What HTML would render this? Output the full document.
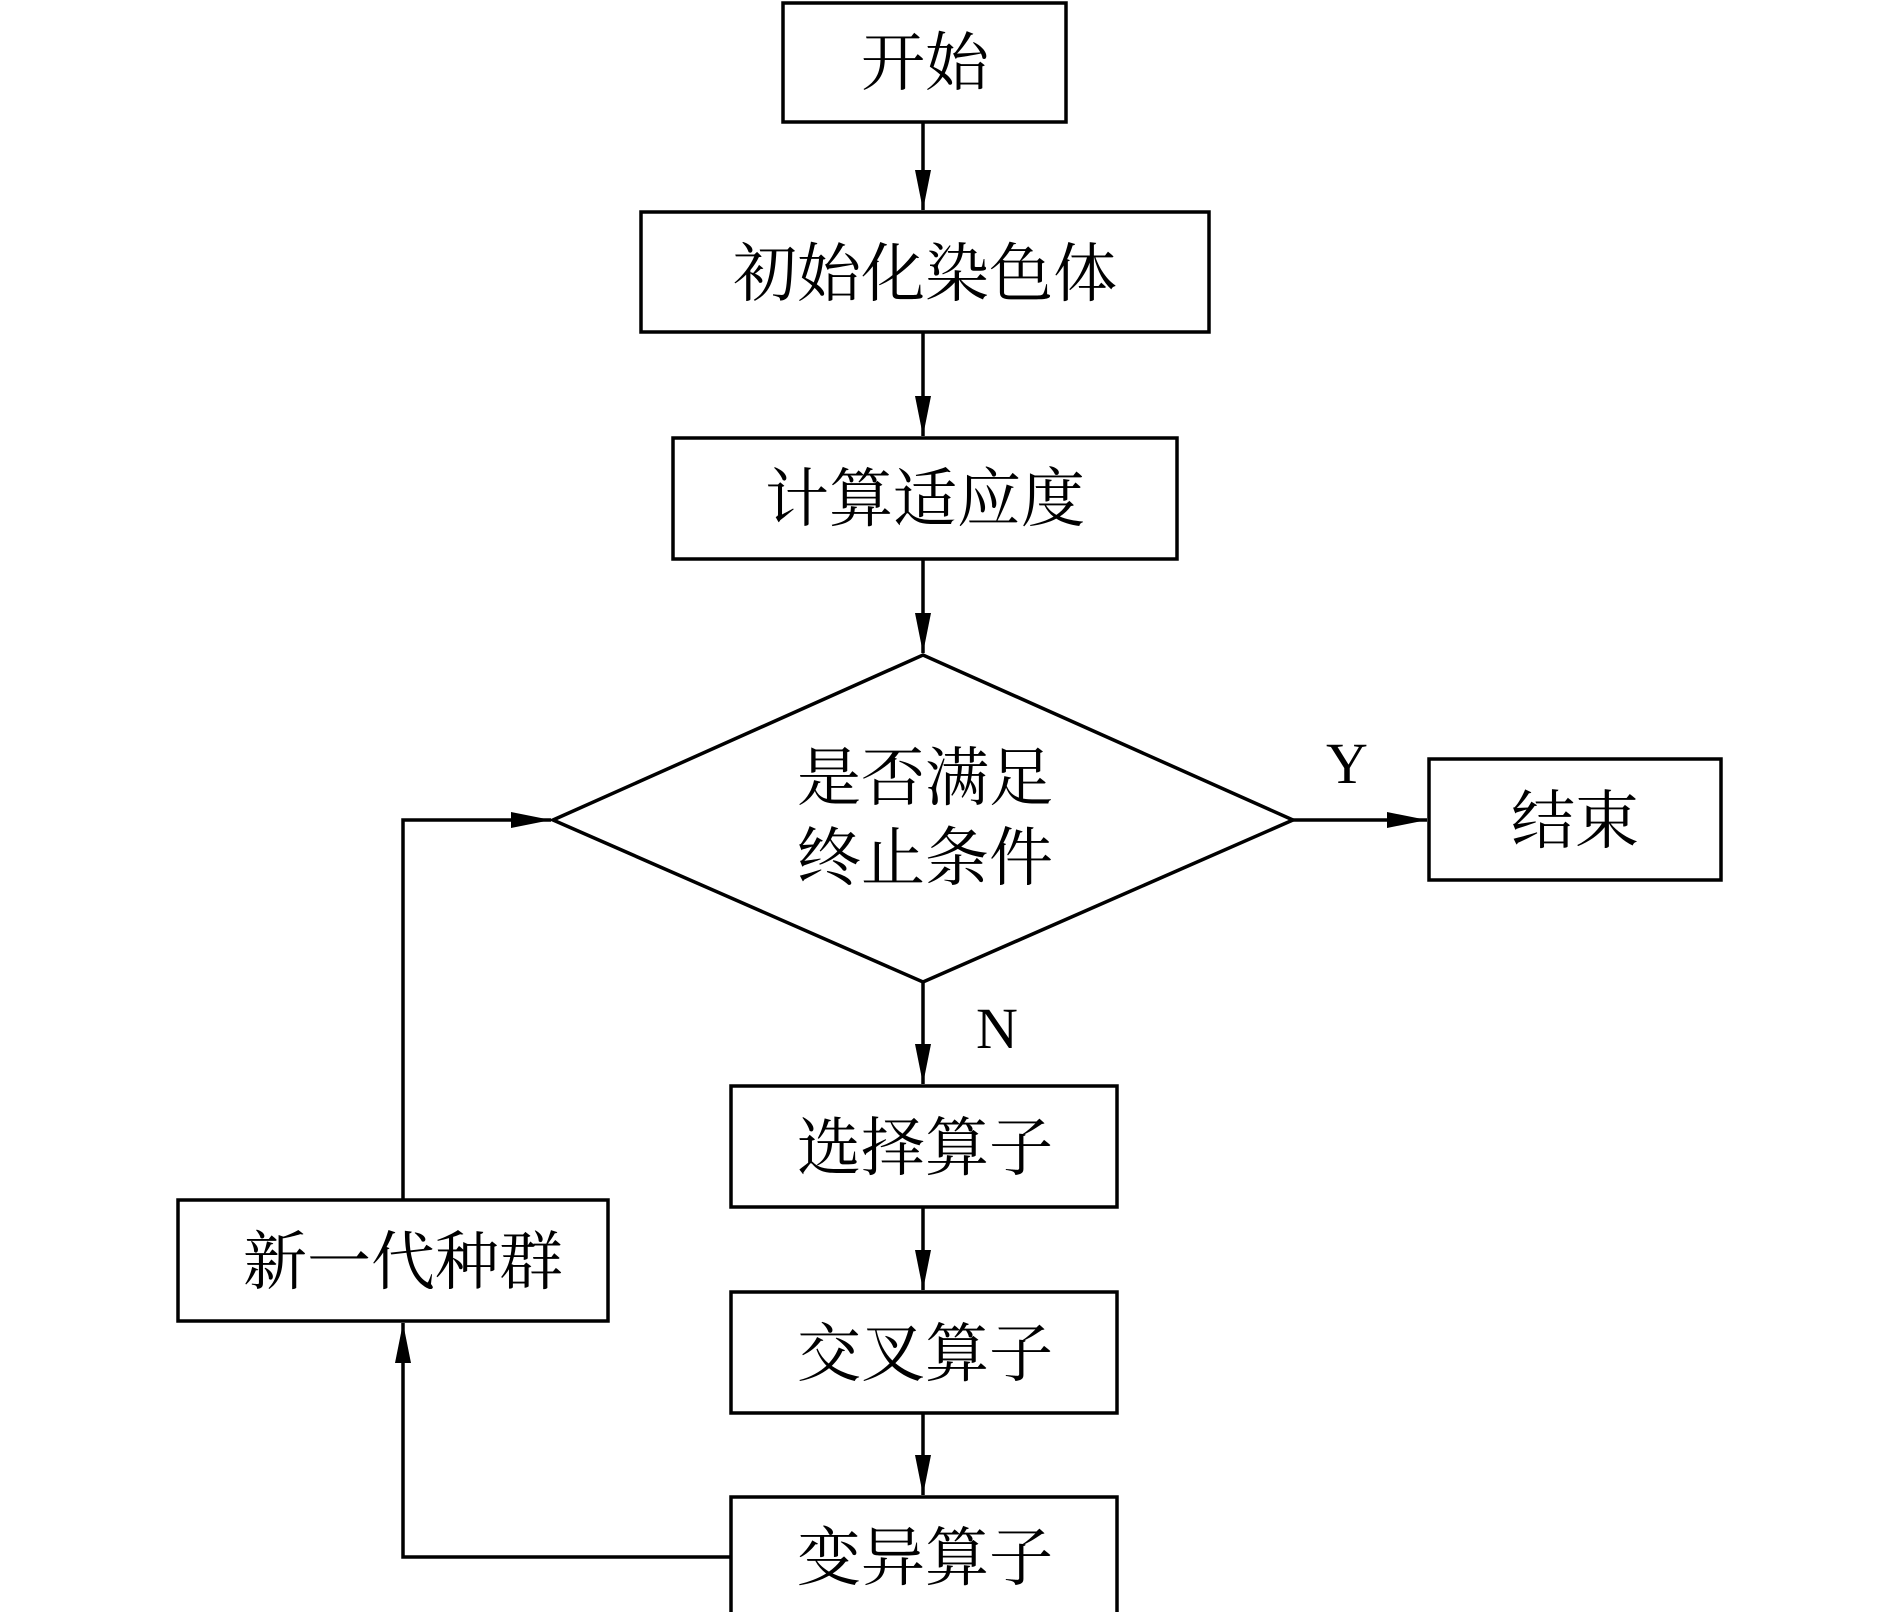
<!DOCTYPE html>
<html><head><meta charset="utf-8"><style>
html,body{margin:0;padding:0;background:#fff;}
svg text{font-family:"Liberation Serif","Noto Serif CJK SC",serif;fill:#000;}
</style></head><body>
<svg width="1889" height="1612" viewBox="0 0 1889 1612" xmlns="http://www.w3.org/2000/svg">
<defs><marker id="a" markerWidth="12" markerHeight="10" refX="12" refY="5" orient="auto" markerUnits="userSpaceOnUse"><path d="M0,0 L0,0 L12,5 L0,10 Z" transform="scale(1)" fill="#000"/></marker>
<marker id="b" markerWidth="40" markerHeight="20" refX="40" refY="10" orient="auto" markerUnits="userSpaceOnUse"><path d="M0,2 L40,10 L0,18 Z" fill="#000"/></marker></defs>
<g fill="none" stroke="#000" stroke-width="3.5">
<rect x="783" y="3" width="283" height="119"/>
<rect x="641" y="212" width="568" height="120"/>
<rect x="673" y="438" width="504" height="121"/>
<polygon points="553,820 923,655 1293,820 923,982"/>
<rect x="1429" y="759" width="292" height="121"/>
<rect x="731" y="1086" width="386" height="121"/>
<rect x="731" y="1292" width="386" height="121"/>
<rect x="731" y="1497" width="386" height="118"/>
<rect x="178" y="1200" width="430" height="121"/>
<line x1="923" y1="122" x2="923" y2="210" marker-end="url(#b)"/>
<line x1="923" y1="332" x2="923" y2="436" marker-end="url(#b)"/>
<line x1="923" y1="559" x2="923" y2="653" marker-end="url(#b)"/>
<line x1="1293" y1="820" x2="1427" y2="820" marker-end="url(#b)"/>
<line x1="923" y1="982" x2="923" y2="1084" marker-end="url(#b)"/>
<line x1="923" y1="1207" x2="923" y2="1290" marker-end="url(#b)"/>
<line x1="923" y1="1413" x2="923" y2="1495" marker-end="url(#b)"/>
<polyline points="731,1557 403,1557 403,1323" marker-end="url(#b)"/>
<polyline points="403,1200 403,820 551,820" marker-end="url(#b)"/>
</g>
<g font-size="64" text-anchor="middle">
<text x="925" y="85">开始</text>
<text x="925" y="296">初始化染色体</text>
<text x="925" y="521">计算适应度</text>
<text x="925" y="800">是否满足</text>
<text x="925" y="880">终止条件</text>
<text x="1575" y="843">结束</text>
<text x="925" y="1170">选择算子</text>
<text x="925" y="1376">交叉算子</text>
<text x="925" y="1580">变异算子</text>
<text x="403" y="1284">新一代种群</text>
<text x="1347" y="783" font-size="58">Y</text>
<text x="997" y="1048" font-size="58">N</text>
</g>
</svg>
</body></html>
